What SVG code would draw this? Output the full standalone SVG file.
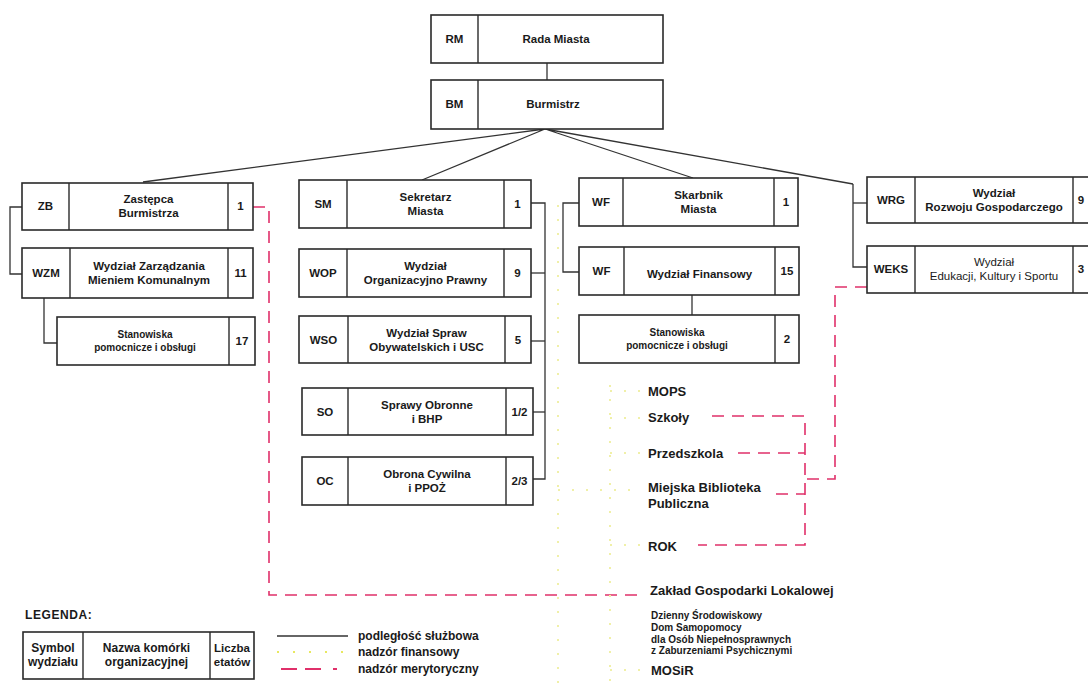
<svg xmlns="http://www.w3.org/2000/svg" width="1088" height="691" viewBox="0 0 1088 691">
<style>
.b{fill:#fff;stroke:#2a2a2a;stroke-width:1.6}
.d{stroke:#2a2a2a;stroke-width:1.4}
.t{font-family:"Liberation Sans",Arial,sans-serif;font-weight:bold;font-size:11.5px;fill:#1a1a1a;text-anchor:middle}
.n{font-weight:normal}
.l{font-family:"Liberation Sans",Arial,sans-serif;font-weight:bold;font-size:13px;fill:#1a1a1a}
.s{font-family:"Liberation Sans",Arial,sans-serif;font-weight:bold;font-size:10px;fill:#1a1a1a}
.k{fill:none;stroke:#333;stroke-width:1.3}
.r{fill:none;stroke:#e0306a;stroke-width:1.6;stroke-dasharray:12 8}
.y{fill:none;stroke:#f0f0a8;stroke-width:2;stroke-dasharray:2 12}
.g{font-family:"Liberation Sans",Arial,sans-serif;font-weight:bold;font-size:12px;fill:#1a1a1a}
</style>
<rect width="1088" height="691" fill="#fff"/>

<g id="connectors">
<line class="k" x1="547" y1="63" x2="547" y2="80"/>
<polyline class="k" points="143,182 545,129 422,180"/>
<polyline class="k" points="693,178 545,129 853,184"/>
<polyline class="k" points="853,184 853,267 867,267"/>
<line class="k" x1="853" y1="203" x2="867" y2="203"/>
<polyline class="k" points="22,207 10,207 10,274 22,274"/>
<polyline class="k" points="44,298 44,343 57,343"/>
<polyline class="k" points="531,203 545,203 545,479 533,479"/>
<line class="k" x1="531" y1="273" x2="545" y2="273"/>
<line class="k" x1="531" y1="341" x2="545" y2="341"/>
<line class="k" x1="533" y1="412" x2="545" y2="412"/>
<polyline class="k" points="579,203 563,203 563,272 579,272"/>
<line class="k" x1="692" y1="295" x2="692" y2="315"/>
<polyline class="r" points="253,207 269,207 269,595 642,595"/>
<polyline class="r" points="867,287 835,287 835,479 805,479"/>
<polyline class="r" points="712,416 805,416 805,545 698,545"/>
<line class="r" x1="738" y1="453" x2="805" y2="453"/>
<line class="r" x1="776" y1="494" x2="805" y2="494"/>
<line class="y" x1="558" y1="205" x2="558" y2="690"/>
<line class="y" x1="610" y1="385" x2="610" y2="690"/>
<line class="y" x1="558" y1="490" x2="640" y2="490"/>
<line class="y" x1="610" y1="391" x2="643" y2="391"/>
<line class="y" x1="610" y1="418" x2="643" y2="418"/>
<line class="y" x1="610" y1="453" x2="643" y2="453"/>
<line class="y" x1="610" y1="545" x2="643" y2="545"/>
<line class="y" x1="610" y1="670" x2="643" y2="670"/>
</g>

<g id="RM"><rect class="b" x="431" y="15" width="232" height="48"/><line class="d" x1="478" y1="15" x2="478" y2="63"/>
<text class="t" x="454.5" y="43">RM</text><text class="t" x="556" y="43">Rada Miasta</text></g>
<g id="BM"><rect class="b" x="431" y="80" width="232" height="49"/><line class="d" x1="478" y1="80" x2="478" y2="129"/>
<text class="t" x="454.5" y="108">BM</text><text class="t" x="553" y="108">Burmistrz</text></g>

<g id="ZB"><rect class="b" x="22" y="183" width="231" height="47"/><line class="d" x1="69" y1="183" x2="69" y2="230"/><line class="d" x1="228" y1="183" x2="228" y2="230"/>
<text class="t" x="45.5" y="210">ZB</text><text class="t" x="148.5" y="203">Zastępca</text><text class="t" x="148.5" y="217">Burmistrza</text><text class="t" x="240.5" y="210">1</text></g>
<g id="WZM"><rect class="b" x="22" y="248" width="231" height="50"/><line class="d" x1="70" y1="248" x2="70" y2="298"/><line class="d" x1="228" y1="248" x2="228" y2="298"/>
<text class="t" x="46" y="277">WZM</text><text class="t" x="149" y="270">Wydział Zarządzania</text><text class="t" x="149" y="284">Mieniem Komunalnym</text><text class="t" x="240.5" y="277">11</text></g>
<g id="SP1"><rect class="b" x="57" y="317" width="198" height="48"/><line class="d" x1="229" y1="317" x2="229" y2="365"/>
<text class="s" x="145" y="338" text-anchor="middle">Stanowiska</text><text class="s" x="145" y="351" text-anchor="middle">pomocnicze i obsługi</text><text class="t" x="242" y="345">17</text></g>

<g id="SM"><rect class="b" x="299" y="180" width="232" height="48"/><line class="d" x1="347" y1="180" x2="347" y2="228"/><line class="d" x1="504" y1="180" x2="504" y2="228"/>
<text class="t" x="323" y="208">SM</text><text class="t" x="425.5" y="201">Sekretarz</text><text class="t" x="425.5" y="215">Miasta</text><text class="t" x="517.5" y="208">1</text></g>
<g id="WOP"><rect class="b" x="299" y="249" width="232" height="48"/><line class="d" x1="347" y1="249" x2="347" y2="297"/><line class="d" x1="504" y1="249" x2="504" y2="297"/>
<text class="t" x="323" y="277">WOP</text><text class="t" x="425.5" y="270">Wydział</text><text class="t" x="425.5" y="284">Organizacyjno Prawny</text><text class="t" x="517.5" y="277">9</text></g>
<g id="WSO"><rect class="b" x="299" y="316" width="232" height="47"/><line class="d" x1="348" y1="316" x2="348" y2="363"/><line class="d" x1="505" y1="316" x2="505" y2="363"/>
<text class="t" x="323.5" y="344">WSO</text><text class="t" x="426.5" y="337">Wydział Spraw</text><text class="t" x="426.5" y="351">Obywatelskich i USC</text><text class="t" x="518" y="344">5</text></g>
<g id="SO"><rect class="b" x="302" y="388" width="231" height="47"/><line class="d" x1="348" y1="388" x2="348" y2="435"/><line class="d" x1="506" y1="388" x2="506" y2="435"/>
<text class="t" x="325" y="416">SO</text><text class="t" x="427" y="409">Sprawy Obronne</text><text class="t" x="427" y="423">i BHP</text><text class="t" x="519.5" y="416">1/2</text></g>
<g id="OC"><rect class="b" x="302" y="457" width="231" height="48"/><line class="d" x1="348" y1="457" x2="348" y2="505"/><line class="d" x1="506" y1="457" x2="506" y2="505"/>
<text class="t" x="325" y="485">OC</text><text class="t" x="427" y="478">Obrona Cywilna</text><text class="t" x="427" y="492">i PPOŻ</text><text class="t" x="519.5" y="485">2/3</text></g>

<g id="WF1"><rect class="b" x="579" y="178" width="219" height="48"/><line class="d" x1="623" y1="178" x2="623" y2="226"/><line class="d" x1="774" y1="178" x2="774" y2="226"/>
<text class="t" x="601" y="206">WF</text><text class="t" x="698.5" y="199">Skarbnik</text><text class="t" x="698.5" y="213">Miasta</text><text class="t" x="786" y="206">1</text></g>
<g id="WF2"><rect class="b" x="579" y="247" width="220" height="48"/><line class="d" x1="624" y1="247" x2="624" y2="295"/><line class="d" x1="775" y1="247" x2="775" y2="295"/>
<text class="t" x="601.5" y="275">WF</text><text class="t" x="699.5" y="278">Wydział Finansowy</text><text class="t" x="787" y="275">15</text></g>
<g id="SP2"><rect class="b" x="579" y="315" width="220" height="48"/><line class="d" x1="775" y1="315" x2="775" y2="363"/>
<text class="s" x="677" y="336" text-anchor="middle">Stanowiska</text><text class="s" x="677" y="349" text-anchor="middle">pomocnicze i obsługi</text><text class="t" x="787" y="343">2</text></g>

<g id="WRG"><rect class="b" x="867" y="177" width="240" height="46"/><line class="d" x1="915" y1="177" x2="915" y2="223"/><line class="d" x1="1073" y1="177" x2="1073" y2="223"/>
<text class="t" x="891" y="204">WRG</text><text class="t" x="994" y="197">Wydział</text><text class="t" x="994" y="211">Rozwoju Gospodarczego</text><text class="t" x="1081" y="204">9</text></g>
<g id="WEKS"><rect class="b" x="867" y="246" width="240" height="47"/><line class="d" x1="915" y1="246" x2="915" y2="293"/><line class="d" x1="1073" y1="246" x2="1073" y2="293"/>
<text class="t" x="891" y="273">WEKS</text><text class="t n" x="994" y="266">Wydział</text><text class="t n" x="994" y="280">Edukacji, Kultury i Sportu</text><text class="t" x="1081" y="273">3</text></g>

<g id="units">
<text class="l" x="648" y="396">MOPS</text>
<text class="l" x="648" y="422">Szkoły</text>
<text class="l" x="648" y="458">Przedszkola</text>
<text class="l" x="648" y="492">Miejska Biblioteka</text>
<text class="l" x="648" y="508">Publiczna</text>
<text class="l" x="648" y="551">ROK</text>
<text class="l" x="650" y="595">Zakład Gospodarki Lokalowej</text>
<text class="s" x="651" y="619">Dzienny Środowiskowy</text>
<text class="s" x="651" y="631">Dom Samopomocy</text>
<text class="s" x="651" y="643">dla Osób Niepełnosprawnych</text>
<text class="s" x="651" y="654">z Zaburzeniami Psychicznymi</text>
<text class="l" x="651" y="675">MOSiR</text>
</g>

<g id="legend">
<text class="g" x="25" y="619" style="letter-spacing:0.6px">LEGENDA:</text>
<rect class="b" x="23" y="632" width="231" height="47"/><line class="d" x1="83" y1="632" x2="83" y2="679"/><line class="d" x1="210" y1="632" x2="210" y2="679"/>
<text class="t" x="53" y="652" style="font-size:12px">Symbol</text><text class="t" x="53" y="666" style="font-size:12px">wydziału</text>
<text class="t" x="146.5" y="652" style="font-size:12px">Nazwa komórki</text><text class="t" x="146.5" y="666" style="font-size:12px">organizacyjnej</text>
<text class="t" x="232" y="652" style="font-size:11.5px">Liczba</text><text class="t" x="232" y="666" style="font-size:11.5px">etatów</text>
<line class="k" x1="277" y1="636" x2="348" y2="636"/>
<line x1="277" y1="652" x2="348" y2="652" style="stroke:#e8e860;stroke-width:2;stroke-dasharray:2 14"/>
<line x1="281" y1="669" x2="348" y2="669" style="stroke:#e0306a;stroke-width:2;stroke-dasharray:16 8 16 12 4"/>
<text class="g" x="358" y="640">podległość służbowa</text>
<text class="g" x="358" y="656">nadzór finansowy</text>
<text class="g" x="358" y="673">nadzór merytoryczny</text>
</g>
</svg>
